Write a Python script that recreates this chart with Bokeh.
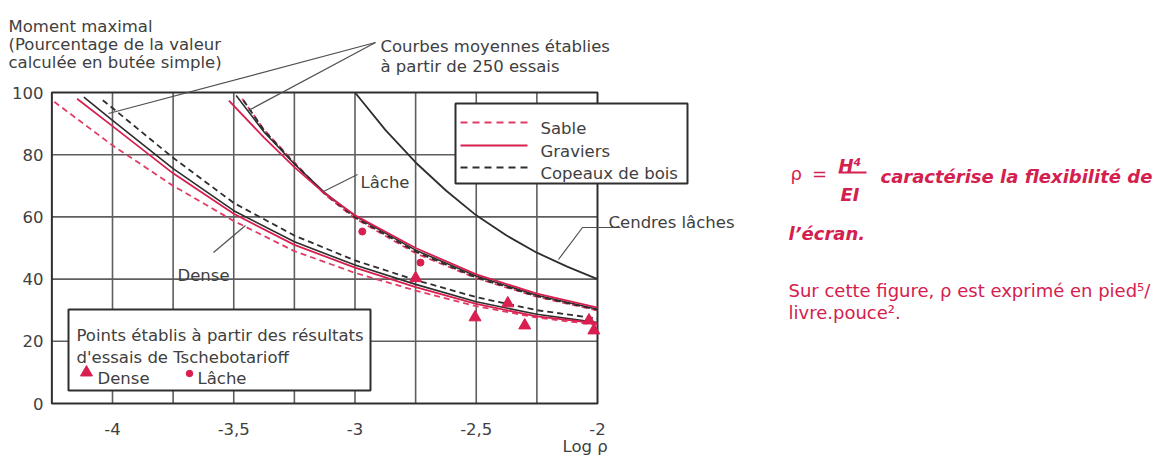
from bokeh.plotting import figure
from bokeh.models import Range1d
from bokeh.embed import file_html
from bokeh.resources import INLINE
from bokeh.core.properties import value

# ---------------- data ----------------
x_frame = [-4.25, -2.0]
y_frame = [0, 100]
x_ticks = [-4.0, -3.5, -3.0, -2.5, -2.0]
x_tick_labels = ["-4", "-3,5", "-3", "-2,5", "-2"]
y_ticks = [0, 20, 40, 60, 80, 100]
y_tick_labels = ["0", "20", "40", "60", "80", "100"]
x_grid = [-4.0, -3.75, -3.5, -3.25, -3.0, -2.75, -2.5, -2.25]
y_grid = [20, 40, 60, 80]

# Dense
dense_sable_x = [-4.24, -4.0, -3.75, -3.5, -3.25, -3.0, -2.75, -2.5, -2.25, -2.0]
dense_sable_y = [97.0, 83.0, 70.0, 58.7, 49.0, 42.0, 36.3, 31.3, 27.6, 25.3]
dense_graviers_x = [-4.146, -4.0, -3.75, -3.5, -3.25, -3.0, -2.75, -2.5, -2.25, -2.0]
dense_graviers_y = [98.0, 89.2, 74.0, 61.0, 51.0, 43.7, 37.4, 32.0, 28.0, 25.8]
dense_moyenne_x = [-4.118, -4.0, -3.75, -3.5, -3.25, -3.0, -2.75, -2.5, -2.25, -2.0]
dense_moyenne_y = [98.5, 91.0, 75.5, 62.0, 52.0, 44.5, 38.3, 32.7, 28.7, 26.0]
dense_copeaux_x = [-4.04, -4.0, -3.75, -3.5, -3.25, -3.0, -2.75, -2.5, -2.25, -2.0]
dense_copeaux_y = [97.5, 95.0, 79.0, 64.5, 54.0, 46.0, 39.7, 34.2, 30.0, 27.3]

# Lâche
lache_graviers_x = [-3.52, -3.375, -3.25, -3.125, -3.0, -2.75, -2.5, -2.25, -2.0]
lache_graviers_y = [97.4, 85.5, 76.0, 67.5, 60.5, 50.0, 41.5, 35.3, 30.8]
lache_moyenne_x = [-3.49, -3.375, -3.25, -3.125, -3.0, -2.75, -2.5, -2.25, -2.0]
lache_moyenne_y = [99.0, 87.3, 77.0, 67.8, 60.3, 49.3, 41.0, 34.8, 30.3]
lache_sable_x = [-3.465, -3.375, -3.25, -3.125, -3.0, -2.75, -2.5, -2.25, -2.0]
lache_sable_y = [98.0, 88.0, 77.5, 67.3, 59.5, 48.3, 40.3, 34.3, 29.9]
lache_copeaux_x = [-3.46, -3.375, -3.25, -3.125, -3.0, -2.75, -2.5, -2.25, -2.0]
lache_copeaux_y = [97.5, 87.8, 77.2, 67.5, 59.8, 48.8, 40.5, 34.5, 30.1]

# Cendres lâches
cendres_x = [-3.0, -2.875, -2.75, -2.625, -2.5, -2.375, -2.25, -2.125, -2.0]
cendres_y = [100.0, 88.0, 77.5, 68.5, 60.5, 54.0, 48.5, 44.0, 40.0]

# Tschebotarioff points
dense_pts_x = [-2.75, -2.505, -2.37, -2.30, -2.035, -2.015]
dense_pts_y = [40.3, 27.7, 32.2, 25.1, 26.7, 23.5]
lache_pts_x = [-2.97, -2.73]
lache_pts_y = [55.3, 45.3]

# ---------------- layout helpers (picture pixel -> data) ----------------
def X(px):
    return -4.0 + (px - 112.0) / 242.5

def Y(py):
    return (403.0 - py) / 3.11

W, H = 1160, 455

RED = "#d81f4f"
RED_D = "#e23c64"
DARK = "#2e2e2e"
GRID = "#5e5e5e"
TXT = "#404040"
FONT = value("DejaVu Sans")
FS = "16.5px"

p = figure(width=W, height=H,
           x_range=Range1d(X(0), X(W)), y_range=Range1d(Y(H), Y(0)),
           output_backend="svg", toolbar_location=None, min_border=0,
           x_axis_location=None, y_axis_location=None)
p.grid.grid_line_color = None
p.outline_line_color = None
p.background_fill_color = "white"
p.border_fill_color = "white"

# grid
n = len(x_grid)
p.segment(x0=x_grid, y0=[y_frame[0]] * n, x1=x_grid, y1=[y_frame[1]] * n,
          line_color=GRID, line_width=1.6)
m = len(y_grid)
p.segment(x0=[x_frame[0]] * m, y0=y_grid, x1=[x_frame[1]] * m, y1=y_grid,
          line_color=GRID, line_width=1.6)
p.quad(left=x_frame[0], right=x_frame[1], bottom=y_frame[0], top=y_frame[1],
       fill_color=None, line_color=DARK, line_width=2)

# curves
DASH = "6 4"
for xs, ys in [(dense_sable_x, dense_sable_y), (lache_sable_x, lache_sable_y)]:
    p.line(xs, ys, line_color=RED_D, line_width=1.8, line_dash=DASH)
for xs, ys in [(dense_copeaux_x, dense_copeaux_y), (lache_copeaux_x, lache_copeaux_y)]:
    p.line(xs, ys, line_color=DARK, line_width=1.8, line_dash=DASH)
for xs, ys in [(dense_moyenne_x, dense_moyenne_y), (lache_moyenne_x, lache_moyenne_y)]:
    p.line(xs, ys, line_color=DARK, line_width=1.6)
for xs, ys in [(dense_graviers_x, dense_graviers_y), (lache_graviers_x, lache_graviers_y)]:
    p.line(xs, ys, line_color=RED, line_width=1.8)
p.line(cendres_x, cendres_y, line_color=DARK, line_width=1.8)

# points
p.scatter(dense_pts_x, dense_pts_y, marker="triangle", size=12,
          fill_color=RED, line_color=RED)
p.scatter(lache_pts_x, lache_pts_y, marker="circle", size=7,
          fill_color=RED, line_color=RED)

# legend (top right)
p.quad(left=X(455), right=X(687), top=Y(103), bottom=Y(183),
       fill_color="white", line_color=DARK, line_width=2)
p.line([X(460), X(527)], [Y(122), Y(122)], line_color=RED_D, line_width=2, line_dash="7 5")
p.line([X(460), X(527)], [Y(145), Y(145)], line_color=RED, line_width=2.2)
p.line([X(460), X(527)], [Y(167), Y(167)], line_color=DARK, line_width=2, line_dash="7 5")
p.text(x=[X(540)] * 3, y=[Y(128), Y(150.5), Y(173)],
       text=["Sable", "Graviers", "Copeaux de bois"],
       text_font=FONT, text_font_size=FS, text_color=TXT, text_baseline="alphabetic")

# legend (bottom left)
p.quad(left=X(68), right=X(370), top=Y(309), bottom=Y(390),
       fill_color="white", line_color=DARK, line_width=2)
p.text(x=[X(76), X(76), X(97), X(197)], y=[Y(335), Y(357), Y(378), Y(378)],
       text=["Points établis à partir des résultats", "d'essais de Tschebotarioff",
             "Dense", "Lâche"],
       text_font=FONT, text_font_size=FS, text_color=TXT, text_baseline="alphabetic")
p.scatter([X(86)], [Y(372)], marker="triangle", size=12, fill_color=RED, line_color=RED)
p.scatter([X(189)], [Y(373)], marker="circle", size=6.5, fill_color=RED, line_color=RED)

# leader lines
LEAD = "#505050"
p.multi_line(xs=[[X(375), X(108)], [X(375), X(248)], [X(357), X(323)],
                 [X(213), X(245)], [X(620), X(582), X(558)]],
             ys=[[Y(42), Y(113)], [Y(42), Y(110)], [Y(174), Y(191)],
                 [Y(252), Y(225)], [Y(227), Y(227), Y(259)]],
             line_color=LEAD, line_width=1.2)

# annotation texts
p.text(x=[X(8), X(8), X(8), X(380), X(380), X(360), X(177), X(608), X(562)],
       y=[Y(26), Y(44), Y(62), Y(46), Y(66), Y(182), Y(275), Y(222), Y(446)],
       text=["Moment maximal", "(Pourcentage de la valeur", "calculée en butée simple)",
             "Courbes moyennes établies", "à partir de 250 essais",
             "Lâche", "Dense", "Cendres lâches", "Log ρ"],
       text_font=FONT, text_font_size=FS, text_color=TXT, text_baseline="alphabetic")

# tick labels
p.text(x=x_ticks, y=[Y(428)] * len(x_ticks), text=x_tick_labels,
       text_font=FONT, text_font_size=FS, text_color=TXT,
       text_align="center", text_baseline="alphabetic")
p.text(x=[X(43)] * len(y_ticks), y=y_ticks, text=y_tick_labels,
       text_font=FONT, text_font_size=FS, text_color=TXT,
       text_align="right", text_baseline="alphabetic")

# right-hand red text
RT = "#d4204e"
p.text(x=[X(790)], y=[Y(173)], text=["ρ"], text_font=FONT, text_font_size="18px",
       text_color=RT, text_baseline="alphabetic")
p.text(x=[X(819)], y=[Y(173)], text=["="], text_font=FONT, text_font_size="18px",
       text_color=RT, text_align="center", text_baseline="alphabetic")
p.text(x=[X(838), X(840), X(880), X(788)], y=[Y(165), Y(194), Y(176), Y(233)],
       text=["H⁴", "EI", "caractérise la flexibilité de", "l’écran."],
       text_font=FONT, text_font_size="18px", text_font_style="bold italic",
       text_color=RT, text_baseline="alphabetic")
p.line([X(838), X(866)], [Y(172), Y(172)], line_color=RT, line_width=1.8)
p.text(x=[X(788), X(788)], y=[Y(290), Y(312)],
       text=["Sur cette figure, ρ est exprimé en pied⁵/", "livre.pouce²."],
       text_font=FONT, text_font_size="18px", text_color=RT, text_baseline="alphabetic")

open("out.html", "w").write(file_html(p, INLINE))
